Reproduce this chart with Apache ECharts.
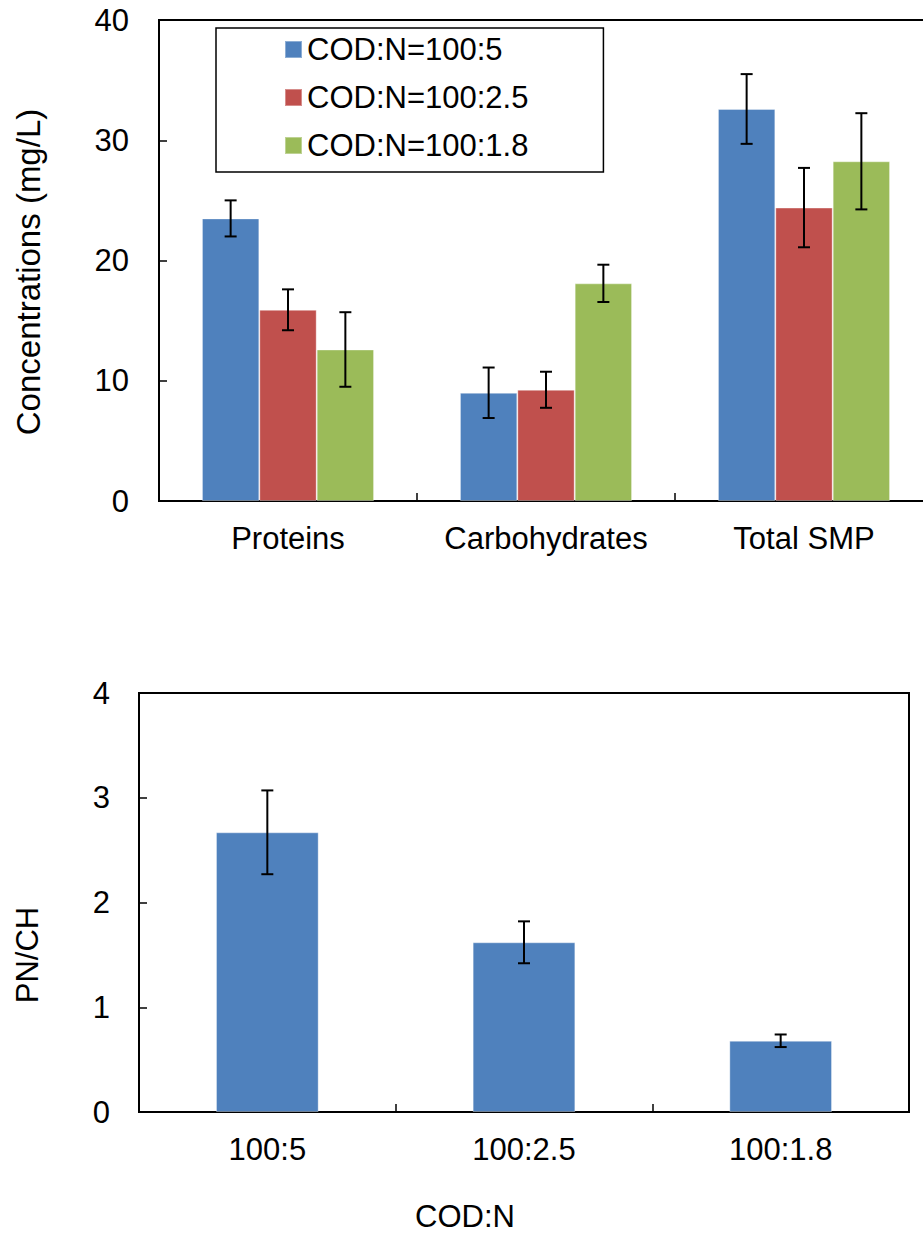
<!DOCTYPE html>
<html>
<head>
<meta charset="utf-8">
<script src="https://cdn.jsdelivr.net/npm/echarts@6/dist/echarts.min.js"></script>
<style>html,body{margin:0;padding:0;background:#fff;overflow:hidden;width:923px;height:1234px;}#c{width:940px;height:1234px;}</style>
</head>
<body>
<div id="c"></div>
<script>
// ---- Data ----
const categories = ['Proteins', 'Carbohydrates', 'Total SMP'];
const seriesNames = ['COD:N=100:5', 'COD:N=100:2.5', 'COD:N=100:1.8'];
const valuesN5 = [23.5, 9.0, 32.6];
const valuesN25 = [15.9, 9.25, 24.4];
const valuesN18 = [12.6, 18.1, 28.25];
const errN5 = [1.5, 2.1, 2.9];
const errN25 = [1.7, 1.5, 3.3];
const errN18 = [3.1, 1.55, 4.0];

const ratioCategories = ['100:5', '100:2.5', '100:1.8'];
const ratioValues = [2.67, 1.62, 0.68];
const ratioErr = [0.40, 0.20, 0.06];

const topYTicks = { min: 0, max: 40, interval: 10 };
const botYTicks = { min: 0, max: 4, interval: 1 };

// ---- Styles ----
const FONT = "'Liberation Sans', Arial, sans-serif";
const FS = 31;
const colors = ['#4F81BD', '#C0504D', '#9BBB59'];

const chart = echarts.init(document.getElementById('c'), null, { renderer: 'svg' });

const allVals = [valuesN5, valuesN25, valuesN18];
const allErr = [errN5, errN25, errN18];

function errorSeries(name, gridIdx, values, errs, seriesIndex, nSeries, catGapFrac) {
  const data = values.map((v, i) => [i, v - errs[i], v + errs[i]]);
  return {
    type: 'custom',
    name: name,
    xAxisIndex: gridIdx,
    yAxisIndex: gridIdx,
    silent: true,
    z: 10,
    encode: { x: 0, y: [1, 2] },
    data: data,
    renderItem: function (params, api) {
      const idx = api.value(0);
      const lo = api.coord([idx, api.value(1)]);
      const hi = api.coord([idx, api.value(2)]);
      const band = api.size([1, 0])[0];
      const barW = band * (1 - catGapFrac) / nSeries;
      const off = (seriesIndex - (nSeries - 1) / 2) * barW;
      const x = lo[0] + off;
      const cap = 6;
      const st = { stroke: '#000', lineWidth: 2 };
      return {
        type: 'group',
        children: [
          { type: 'line', shape: { x1: x, y1: hi[1], x2: x, y2: lo[1] }, style: st },
          { type: 'line', shape: { x1: x - cap, y1: hi[1], x2: x + cap, y2: hi[1] }, style: st },
          { type: 'line', shape: { x1: x - cap, y1: lo[1], x2: x + cap, y2: lo[1] }, style: st }
        ]
      };
    }
  };
}

const axisLine = { show: true, lineStyle: { color: '#000', width: 2 } };
const axisTick = { show: true, inside: true, length: 8, lineStyle: { color: '#000', width: 1.5 } };
const axisLabel = { color: '#000', fontFamily: FONT, fontSize: FS };

const series = [];
for (let s = 0; s < 3; s++) {
  series.push({
    type: 'bar',
    name: seriesNames[s],
    xAxisIndex: 0,
    yAxisIndex: 0,
    data: allVals[s],
    barGap: '0%',
    barCategoryGap: '33.3%',
    itemStyle: { color: colors[s], borderColor: 'rgba(255,255,255,0.35)', borderWidth: 1 },
    emphasis: { disabled: true }
  });
}
for (let s = 0; s < 3; s++) {
  series.push(errorSeries(seriesNames[s], 0, allVals[s], allErr[s], s, 3, 0.333));
}
series.push({
  type: 'bar',
  name: 'PN/CH',
  xAxisIndex: 1,
  yAxisIndex: 1,
  data: ratioValues,
  barCategoryGap: '60%',
  itemStyle: { color: colors[0], borderColor: 'rgba(255,255,255,0.35)', borderWidth: 1 },
  emphasis: { disabled: true }
});
series.push(errorSeries('PN/CH err', 1, ratioValues, ratioErr, 0, 1, 0.6));

const option = {
  backgroundColor: '#fff',
  animation: false,
  legend: {
    data: seriesNames,
    orient: 'vertical',
    left: 216,
    top: 28,
    itemWidth: 17,
    itemHeight: 17,
    itemGap: 17,
    padding: [6, 75, 11, 68],
    borderColor: '#000',
    borderWidth: 1.5,
    backgroundColor: '#fff',
    icon: 'rect',
    selectedMode: false,
    textStyle: { color: '#000', fontFamily: FONT, fontSize: FS }
  },
  grid: [
    { left: 159, width: 774, top: 20, height: 481, show: true, borderColor: '#000', borderWidth: 2, containLabel: false },
    { left: 139, width: 770, top: 693, height: 419, show: true, borderColor: '#000', borderWidth: 2, containLabel: false }
  ],
  xAxis: [
    { type: 'category', gridIndex: 0, data: categories, axisLine: axisLine, axisTick: axisTick,
      axisLabel: Object.assign({ margin: 22, interval: 0 }, axisLabel), splitLine: { show: false } },
    { type: 'category', gridIndex: 1, data: ratioCategories, axisLine: axisLine, axisTick: axisTick,
      axisLabel: Object.assign({ margin: 22, interval: 0 }, axisLabel), splitLine: { show: false } }
  ],
  yAxis: [
    { type: 'value', gridIndex: 0, min: topYTicks.min, max: topYTicks.max, interval: topYTicks.interval,
      axisLine: axisLine, axisTick: axisTick, axisLabel: Object.assign({ margin: 30 }, axisLabel), splitLine: { show: false } },
    { type: 'value', gridIndex: 1, min: botYTicks.min, max: botYTicks.max, interval: botYTicks.interval,
      axisLine: axisLine, axisTick: axisTick, axisLabel: Object.assign({ margin: 29 }, axisLabel), splitLine: { show: false } }
  ],
  graphic: [
    { type: 'text', x: 28, y: 272, rotation: Math.PI / 2,
      style: { text: 'Concentrations (mg/L)', fill: '#000', font: "33px 'Liberation Sans', Arial, sans-serif", textAlign: 'center', textVerticalAlign: 'middle' } },
    { type: 'text', x: 27, y: 955, rotation: Math.PI / 2,
      style: { text: 'PN/CH', fill: '#000', font: FS + "px 'Liberation Sans', Arial, sans-serif", textAlign: 'center', textVerticalAlign: 'middle' } },
    { type: 'text', x: 465, y: 1216,
      style: { text: 'COD:N', fill: '#000', font: FS + "px 'Liberation Sans', Arial, sans-serif", textAlign: 'center', textVerticalAlign: 'middle' } }
  ],
  series: series
};
chart.setOption(option);
</script>
</body>
</html>
